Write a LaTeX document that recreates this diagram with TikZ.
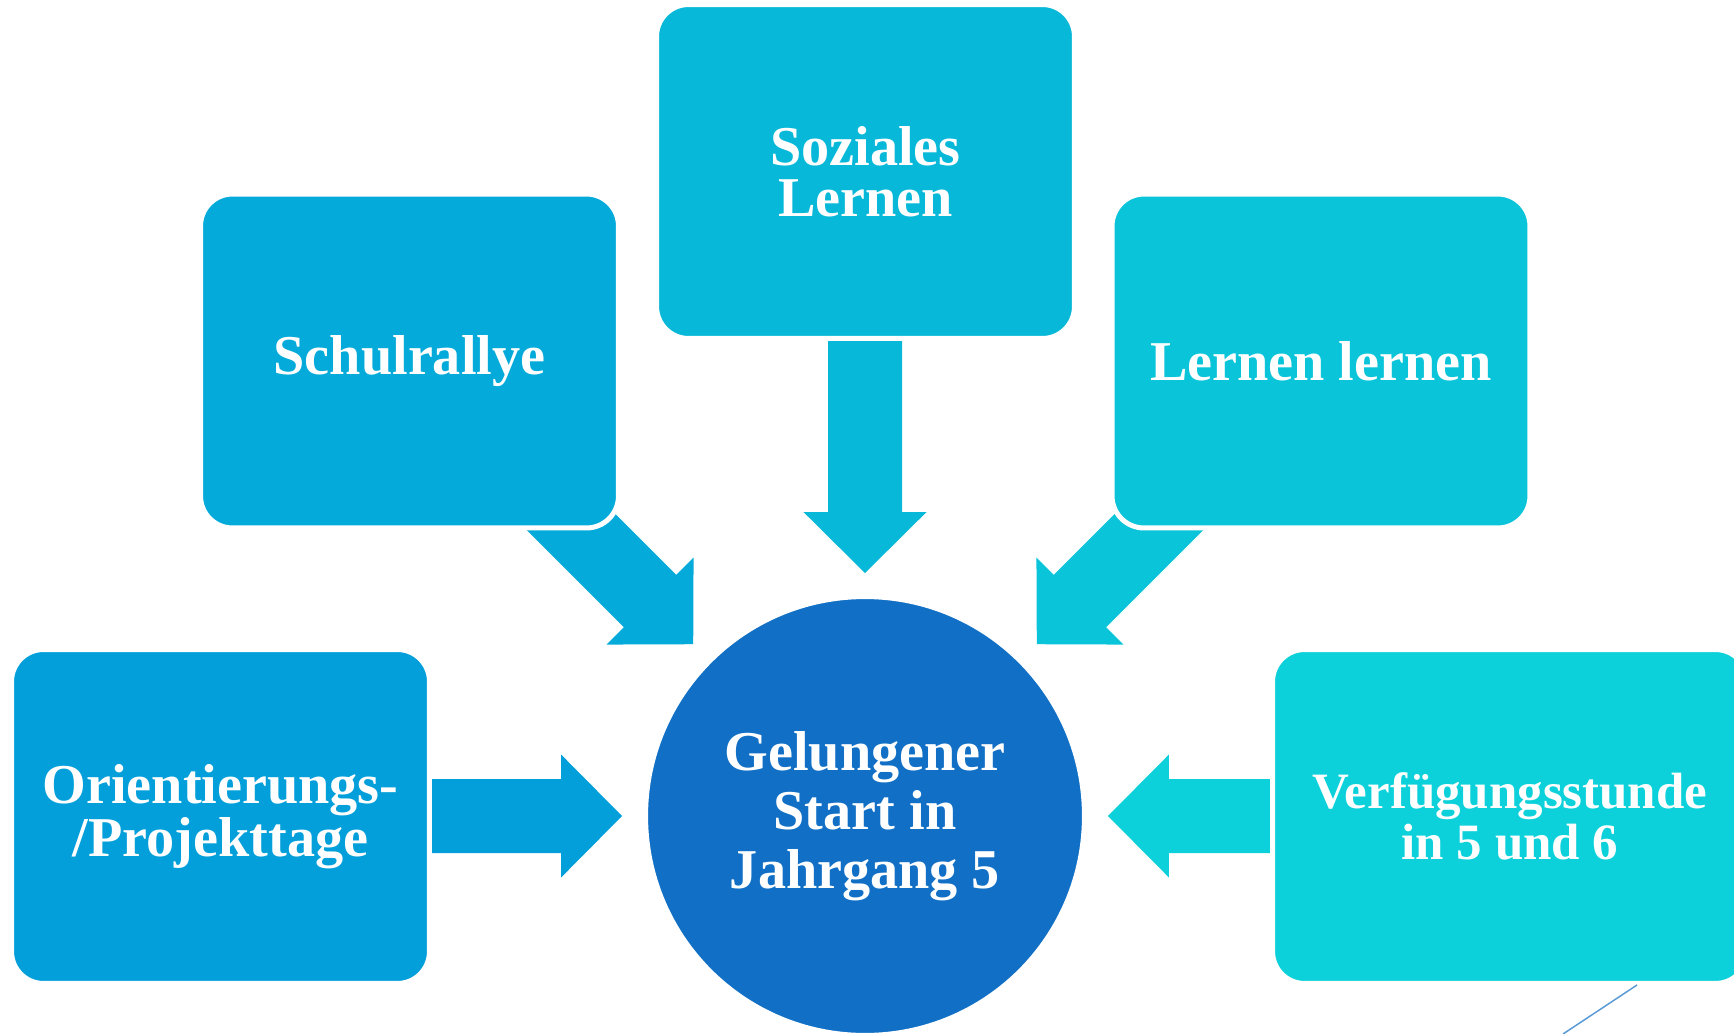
\documentclass[tikz,border=0pt]{standalone}
\usepackage{fontspec}
\setmainfont{Liberation Serif}
\usepackage{tikz}
\usetikzlibrary{calc}
\definecolor{blueA}{HTML}{029FDA}
\definecolor{blueB}{HTML}{04AAD9}
\definecolor{blueC}{HTML}{07B8D9}
\definecolor{blueD}{HTML}{0AC4D9}
\definecolor{blueE}{HTML}{0DD1DA}
\definecolor{hubblue}{HTML}{1170C6}
\definecolor{strayblue}{HTML}{5B9BD5}
\tikzset{box/.style={shape=rectangle, rounded corners=0.64cm, draw=white,
    line width=0.1cm, text=white, align=center, minimum width=8.36cm,
    minimum height=6.68cm, font=\fontsize{32}{29}\selectfont\bfseries}}
\tikzset{hubcircle/.style={shape=circle, draw=white, line width=0.1cm,
    fill=hubblue, text=white, align=center, minimum size=8.78cm,
    font=\fontsize{32}{33.5}\selectfont\bfseries}}
% block arrow: colour, tip, direction, length
\newcommand{\blockarrow}[4]{%
  \fill[#1, shift={(#2)}, rotate=#3] (0,0) -- (-61,61.5) -- (-61,37)
    -- (-#4,37) -- (-#4,-37) -- (-61,-37) -- (-61,-61.5) -- cycle;}

\begin{document}
\begin{tikzpicture}[x=0.02cm, y=-0.02cm]
      \useasboundingbox (0,0) rectangle (1734,1034);
      \coordinate (hubc) at (865,816);
      \foreach \d in {0, -45, -90, -135, 180}
        \coordinate (tip\d) at ($(hubc)+(\d+180:4.86cm)$);
      \blockarrow{blueA}{tip0}{0}{191}
      \blockarrow{blueB}{tip-45}{-45}{233}
      \blockarrow{blueC}{tip-90}{-90}{232}
      \blockarrow{blueD}{tip-135}{-135}{233}
      \blockarrow{blueE}{tip180}{180}{163}
      \node[box, fill=blueA] (orient) at (220.5,816.5) {Orientierungs-\\/Projekttage};
      \node[box, fill=blueB] (schul) at (409.5,361) {Schulrallye};
      \node[box, fill=blueC] (sozial) at (865.5,171.5) {Soziales\\Lernen};
      \node[box, fill=blueD] (lernen) at (1321,361) {Lernen lernen};
      \node[box, fill=blueE, minimum width=9.5cm,
        font=\fontsize{29}{29}\selectfont\bfseries] (verf) at (1510,816.5)
        {Verfügungsstunde\\in 5 und 6};
      \node[hubcircle] (hub) at (hubc) {Gelungener\\Start in\\Jahrgang 5};
      \coordinate (strayA) at (1563,1034);
      \coordinate (strayB) at (1637,985);
      \draw[strayblue, line width=0.03cm] (strayA) -- (strayB);
    \end{tikzpicture}
\end{document}
